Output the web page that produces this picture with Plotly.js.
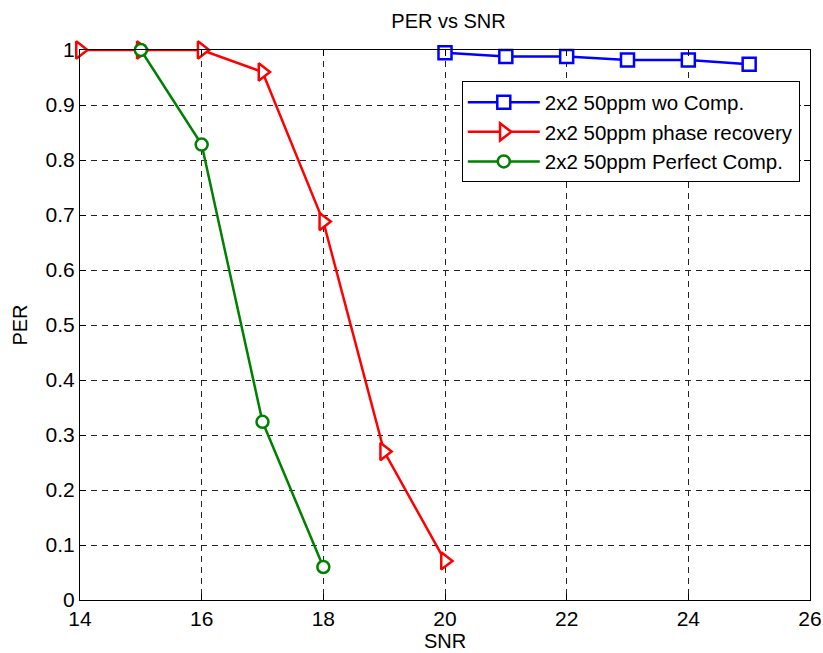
<!DOCTYPE html>
<html>
<head>
<meta charset="utf-8">
<script src="https://cdn.plot.ly/plotly-3.0.1.min.js"></script>
<style>html,body{margin:0;padding:0;background:#fff;}#chart{width:823px;height:653px;}</style>
</head>
<body>
<div id="chart"></div>
<script>
const snrWo = [20, 21, 22, 23, 24, 25];
const perWo = [0.995, 0.988, 0.988, 0.982, 0.982, 0.974];
const snrPhase = [14, 15, 16, 17, 18, 19, 20];
const perPhase = [1, 1, 1, 0.96, 0.688, 0.27, 0.071];
const snrPerfect = [15, 16, 17, 18];
const perPerfect = [1, 0.828, 0.324, 0.06];
const names = ["2x2 50ppm wo Comp.", "2x2 50ppm phase recovery", "2x2 50ppm Perfect Comp."];
const xTicks = [14, 16, 18, 20, 22, 24, 26];
const yTicks = [0, 0.1, 0.2, 0.3, 0.4, 0.5, 0.6, 0.7, 0.8, 0.9, 1];
const yTickText = ["0", "0.1", "0.2", "0.3", "0.4", "0.5", "0.6", "0.7", "0.8", "0.9", "1"];

const font = "Liberation Sans, Arial, sans-serif";
function trace(x, y, name, color, symbol, size, grp) {
  return {
    x: x, y: y, name: name, type: "scatter", mode: "lines+markers",
    legendgroup: grp, cliponaxis: false,
    line: {color: color, width: 2.5},
    marker: {symbol: symbol, size: size, color: "white", line: {color: color, width: 2.5}}
  };
}
const data = [
  trace(snrWo, perWo, names[0], "#0000ff", "square", 13, "a"),
  trace(snrPhase, perPhase, names[1], "#ff0000", "triangle-right", 15, "b"),
  trace(snrPerfect, perPerfect, names[2], "#008000", "circle", 12, "c")
];
const axisCommon = {
  showline: true, linecolor: "black", linewidth: 1, mirror: "ticks",
  ticks: "inside", ticklen: 6, tickcolor: "black", tickwidth: 1,
  showgrid: true, gridcolor: "#222", gridwidth: 1, griddash: "6px,5px",
  zeroline: false, tickfont: {family: font, size: 21, color: "black"}
};
const layout = {
  width: 823, height: 653,
  margin: {l: 80, r: 13, t: 50, b: 53},
  paper_bgcolor: "white", plot_bgcolor: "white",
  font: {family: font, color: "black"},
  title: {text: "PER vs SNR", font: {family: font, size: 20, color: "black"}, x: 0.545, xanchor: "center", y: 0.968, yanchor: "middle"},
  xaxis: Object.assign({}, axisCommon, {
    range: [14, 26], tickvals: xTicks, ticktext: xTicks.map(String),
    title: {text: "SNR", font: {family: font, size: 20}, standoff: 4}
  }),
  yaxis: Object.assign({}, axisCommon, {
    range: [0, 1], tickvals: yTicks, ticktext: yTickText,
    title: {text: "PER", font: {family: font, size: 20}, standoff: 12}
  }),
  showlegend: true,
  legend: {
    x: 0.523, y: 0.943, xanchor: "left", yanchor: "top",
    bgcolor: "white", bordercolor: "black", borderwidth: 1,
    font: {family: font, size: 20.5, color: "black"},
    traceorder: "grouped", tracegroupgap: 0, itemwidth: 72
  }
};
Plotly.newPlot("chart", data, layout, {displayModeBar: false, staticPlot: true});
</script>
</body>
</html>
